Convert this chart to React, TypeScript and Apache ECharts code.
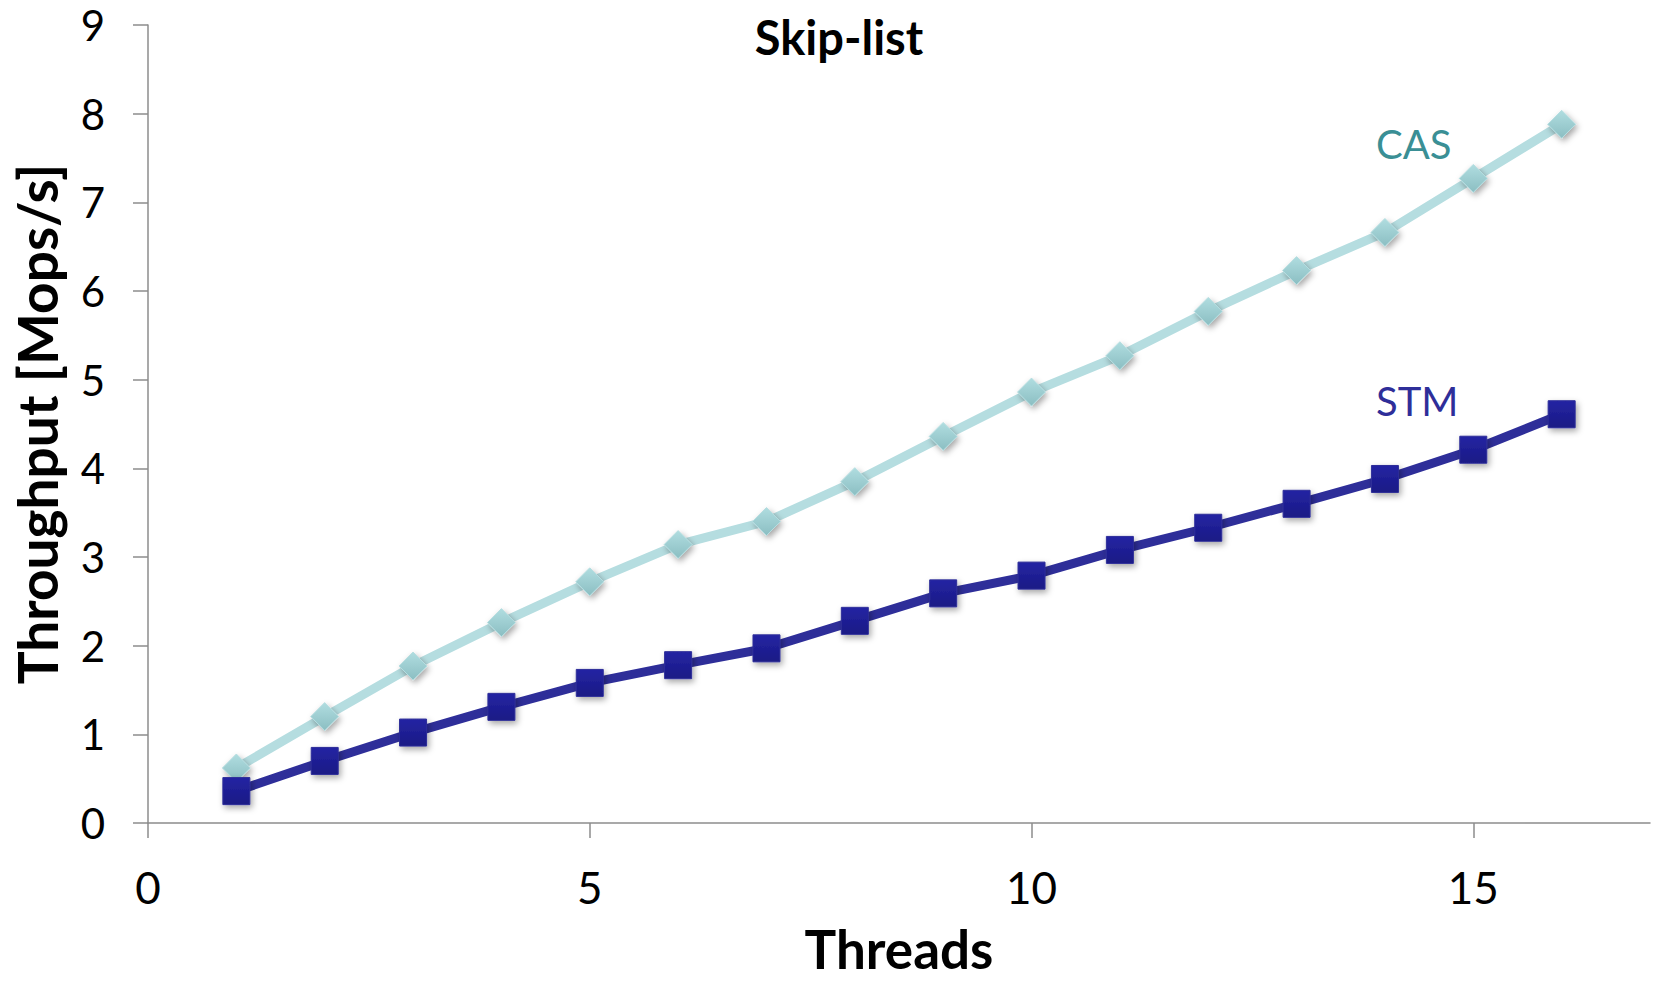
import React, { useEffect, useRef } from "react";
import * as echarts from "echarts";

const threads = [1, 2, 3, 4, 5, 6, 7, 8, 9, 10, 11, 12, 13, 14, 15, 16];
const casValues = [0.62, 1.2, 1.77, 2.26, 2.72, 3.14, 3.4, 3.85, 4.36, 4.86, 5.27, 5.77, 6.23, 6.66, 7.27, 7.88];
const stmValues = [0.36, 0.7, 1.02, 1.31, 1.58, 1.78, 1.97, 2.28, 2.59, 2.79, 3.08, 3.33, 3.6, 3.88, 4.21, 4.61];
const xTicks = [0, 5, 10, 15];

const FONT = "Lato, 'Open Sans', sans-serif";

export default function App() {
  const ref = useRef<HTMLDivElement>(null);
  useEffect(() => {
    document.body.style.margin = "0";
    const chart = echarts.init(ref.current!, null, { renderer: "svg" });
    const shadow = { shadowBlur: 6, shadowColor: "rgba(0,0,0,0.35)", shadowOffsetX: 2, shadowOffsetY: 3 };
    chart.setOption({
      animation: false,
      backgroundColor: "#ffffff",
      title: {
        text: "Skip-list",
        left: 834,
        top: 8,
        textAlign: "center",
        textStyle: { fontFamily: FONT, fontWeight: "bold", fontSize: 47, color: "#000" },
      },
      grid: { left: 148, right: 3, top: 25, bottom: 158, containLabel: false, outerBoundsMode: "none" },
      xAxis: {
        type: "value",
        min: 0,
        max: 17,
        interval: 5,
        name: "Threads",
        nameLocation: "middle",
        nameGap: 97,
        nameTextStyle: { fontFamily: FONT, fontWeight: "bold", fontSize: 53, lineHeight: 56, color: "#000" },
        axisLine: { show: true, lineStyle: { color: "#8c8c8c", width: 1.5 } },
        axisTick: { show: true, length: 15, lineStyle: { color: "#8c8c8c", width: 1.5 }, customValues: xTicks },
        axisLabel: { fontFamily: FONT, fontSize: 44, lineHeight: 44, color: "#000", margin: 42, customValues: xTicks },
        splitLine: { show: false },
      },
      yAxis: {
        type: "value",
        min: 0,
        max: 9,
        interval: 1,
        name: "Throughput [Mops/s]",
        nameLocation: "middle",
        nameGap: 84,
        nameTextStyle: { fontFamily: FONT, fontWeight: "bold", fontSize: 55, color: "#000" },
        axisLine: { show: true, lineStyle: { color: "#8c8c8c", width: 1.5 } },
        axisTick: { show: true, length: 15, lineStyle: { color: "#8c8c8c", width: 1.5 } },
        axisLabel: { fontFamily: FONT, fontSize: 42, lineHeight: 42, color: "#000", margin: 43 },
        splitLine: { show: false },
      },
      series: [
        {
          name: "CAS",
          type: "line",
          data: threads.map((t, i) => [t, casValues[i]]),
          symbol: "diamond",
          symbolSize: 28,
          lineStyle: { color: "#b5dde0", width: 9 },
          itemStyle: {
            color: new echarts.graphic.LinearGradient(0, 0, 0, 1, [
              { offset: 0, color: "#b0dde0" },
              { offset: 1, color: "#8bbec2" },
            ]),
            borderColor: "#b5dde0",
            borderWidth: 1,
            ...shadow,
          },
          z: 2,
        },
        {
          name: "STM",
          type: "line",
          data: threads.map((t, i) => [t, stmValues[i]]),
          symbol: "rect",
          symbolSize: 27,
          lineStyle: { color: "#2e2e99", width: 9 },
          itemStyle: {
            color: new echarts.graphic.LinearGradient(0, 0, 0, 1, [
              { offset: 0, color: "#2424a3" },
              { offset: 1, color: "#1a1a85" },
            ]),
            borderColor: "#2e2e99",
            borderWidth: 1,
            ...shadow,
          },
          z: 3,
        },
      ],
      graphic: [
        {
          type: "text",
          left: 1376,
          top: 124,
          style: { text: "CAS", fontFamily: FONT, fontSize: 40, fill: "#3a8f95" },
        },
        {
          type: "text",
          left: 1376,
          top: 381,
          style: { text: "STM", fontFamily: FONT, fontSize: 40, fill: "#2e2e99" },
        },
      ],
    });
    return () => chart.dispose();
  }, []);
  return <div ref={ref} style={{ width: 1653, height: 981 }} />;
}
